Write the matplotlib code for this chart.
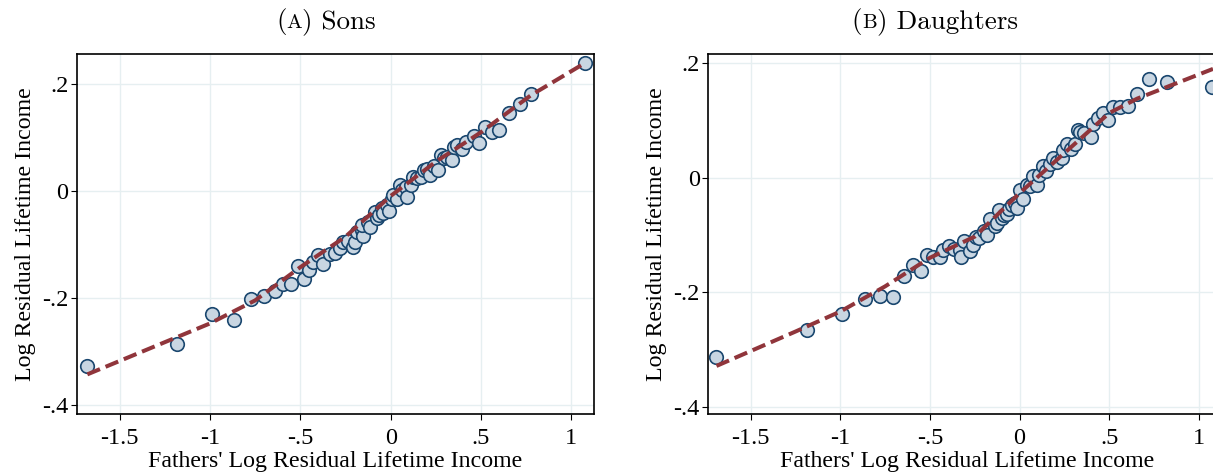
import matplotlib
matplotlib.use("Agg")
import matplotlib.pyplot as plt
from matplotlib.offsetbox import TextArea, HPacker, AnnotationBbox

plt.rcParams['font.family'] = ['Liberation Serif', 'DejaVu Serif']

# sons: binned points (father income, son income)
sons_x = [-1.678, -1.182, -0.990, -0.864, -0.775, -0.703, -0.641, -0.594, -0.549,
          -0.515, -0.477, -0.450, -0.429, -0.401, -0.377, -0.336, -0.308, -0.281,
          -0.262, -0.235, -0.210, -0.198, -0.188, -0.161, -0.152, -0.161, -0.124,
          -0.115, -0.087, -0.078, -0.063, -0.050, -0.041, -0.022, -0.008, 0.005,
          0.014, 0.033, 0.051, 0.061, 0.085, 0.089, 0.111, 0.125, 0.144, 0.166,
          0.184, 0.199, 0.218, 0.240, 0.264, 0.277, 0.295, 0.310, 0.338, 0.350,
          0.369, 0.393, 0.417, 0.463, 0.491, 0.522, 0.559, 0.601, 0.657, 0.716,
          0.776, 1.074]
sons_y = [-0.327, -0.285, -0.229, -0.241, -0.201, -0.196, -0.186, -0.174, -0.173,
          -0.140, -0.164, -0.148, -0.132, -0.120, -0.136, -0.117, -0.115, -0.107,
          -0.095, -0.093, -0.105, -0.095, -0.076, -0.073, -0.084, -0.064, -0.057,
          -0.067, -0.039, -0.051, -0.045, -0.031, -0.041, -0.026, -0.037, -0.014,
          -0.007, -0.014, 0.011, 0.002, 0.007, -0.011, 0.011, 0.026, 0.024, 0.027,
          0.039, 0.042, 0.030, 0.047, 0.039, 0.067, 0.061, 0.064, 0.058, 0.082,
          0.086, 0.078, 0.092, 0.103, 0.090, 0.119, 0.111, 0.115, 0.145, 0.163,
          0.181, 0.239]
sons_fit_x = [-1.678, -1.0, -0.75, -0.5, -0.25, 0.0, 0.25, 0.5, 0.776, 1.074]
sons_fit_y = [-0.342, -0.247, -0.204, -0.142, -0.085, -0.009, 0.055, 0.110, 0.179, 0.239]

# daughters
daughters_x = [-1.692, -1.187, -0.992, -0.863, -0.776, -0.705, -0.647, -0.597, -0.552,
               -0.515, -0.482, -0.444, -0.426, -0.392, -0.366, -0.333, -0.327, -0.310,
               -0.277, -0.259, -0.244, -0.225, -0.199, -0.184, -0.166, -0.138, -0.128,
               -0.114, -0.100, -0.088, -0.073, -0.058, -0.045, -0.026, -0.013, 0.002,
               0.020, 0.039, 0.057, 0.076, 0.095, 0.109, 0.132, 0.147, 0.169, 0.184,
               0.206, 0.234, 0.243, 0.265, 0.284, 0.308, 0.323, 0.336, 0.358, 0.396,
               0.410, 0.438, 0.463, 0.494, 0.522, 0.559, 0.605, 0.656, 0.722, 0.819,
               1.070]
daughters_y = [-0.314, -0.266, -0.238, -0.212, -0.206, -0.208, -0.171, -0.152, -0.163,
               -0.136, -0.139, -0.138, -0.126, -0.119, -0.125, -0.126, -0.139, -0.111,
               -0.129, -0.117, -0.103, -0.105, -0.094, -0.100, -0.072, -0.085, -0.079,
               -0.056, -0.070, -0.066, -0.063, -0.055, -0.047, -0.044, -0.053, -0.021,
               -0.038, -0.012, -0.015, 0.002, -0.012, 0.005, 0.021, 0.011, 0.023, 0.034,
               0.028, 0.034, 0.049, 0.058, 0.050, 0.058, 0.084, 0.079, 0.078, 0.071,
               0.093, 0.104, 0.113, 0.100, 0.124, 0.124, 0.126, 0.146, 0.173, 0.167,
               0.158]
daughters_fit_x = [-1.69, -1.25, -1.0, -0.75, -0.5, -0.25, 0.0, 0.25, 0.5, 0.655, 1.078]
daughters_fit_y = [-0.329, -0.269, -0.234, -0.190, -0.140, -0.103, -0.027, 0.043, 0.113, 0.138, 0.190]

x_ticks = [-1.5, -1, -0.5, 0, 0.5, 1]
x_tick_labels = ['-1.5', '-1', '-.5', '0', '.5', '1']
y_ticks = [-0.4, -0.2, 0, 0.2]
y_tick_labels = ['-.4', '-.2', '0', '.2']

fig = plt.figure(figsize=(12.13, 4.73), dpi=100)
ax_sons = fig.add_axes([0.0635, 0.1247, 0.4262, 0.7611])
ax_dau = fig.add_axes([0.584, 0.1247, 0.4262, 0.7611])


def draw_panel(ax, xs, ys, fit_x, fit_y, xlim, ylim):
    ax.scatter(xs, ys, s=95, facecolor='#c9d6e2', edgecolor='#1a476f',
               linewidth=1.2, zorder=3)
    ax.plot(fit_x, fit_y, color='#90353b', lw=2.9, dashes=(3.4, 1.5), zorder=4)
    ax.set_xlim(*xlim)
    ax.set_ylim(*ylim)
    ax.set_xticks(x_ticks, labels=x_tick_labels)
    ax.set_yticks(y_ticks, labels=y_tick_labels)
    ax.grid(True, color='#e6eff1', lw=1.0)
    ax.set_axisbelow(True)
    ax.tick_params(direction='out', length=4.3, width=0.8, labelsize=17.5)
    ax.tick_params(axis='x', pad=5.5)
    ax.tick_params(axis='y', pad=2)
    for sp in ax.spines.values():
        sp.set_linewidth(1.2)
    ax.set_xlabel("Fathers' Log Residual Lifetime Income", fontsize=17.2)
    ax.set_ylabel("Log Residual Lifetime Income", fontsize=17.2)
    # label sits low, close to the bottom edge as in the original
    ax.xaxis.set_label_coords(0.5, -0.104)
    ax.yaxis.set_label_coords(-0.08, 0.5)


def panel_title(x, letter, name):
    # "(A) Sons" with a small-caps letter
    parts = [TextArea('(', textprops=dict(family='cmr10', size=19.5)),
             TextArea(letter, textprops=dict(family='cmr10', size=15)),
             TextArea(') ' + name, textprops=dict(family='cmr10', size=19.5))]
    box = HPacker(children=parts, align='baseline', pad=0, sep=0)
    ab = AnnotationBbox(box, (x, 0.954), xycoords='figure fraction',
                        frameon=False, box_alignment=(0.5, 0.5))
    fig.add_artist(ab)


draw_panel(ax_sons, sons_x, sons_y, sons_fit_x, sons_fit_y, (-1.735, 1.125), (-0.416, 0.256))
draw_panel(ax_dau, daughters_x, daughters_y, daughters_fit_x, daughters_fit_y,
           (-1.735, 1.147), (-0.413, 0.216))

panel_title(0.2688, 'A', 'Sons')
panel_title(0.7705, 'B', 'Daughters')

fig.savefig('out.png', dpi=100)
